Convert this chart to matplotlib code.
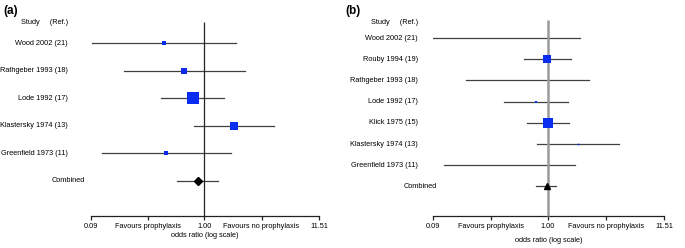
import matplotlib
matplotlib.use("Agg")
import matplotlib.pyplot as plt
import matplotlib.transforms as mtransforms
from matplotlib import font_manager

names = {f.name for f in font_manager.fontManager.ttflist}
narrow = "Liberation Sans Narrow" if "Liberation Sans Narrow" in names else None
plt.rcParams['font.family'] = ['Liberation Sans', 'DejaVu Sans']

# ---------------- data ----------------
studies_a = ["Wood 2002 (21)", "Rathgeber 1993 (18)", "Lode 1992 (17)",
             "Klastersky 1974 (13)", "Greenfield 1973 (11)"]
or_a = [0.425, 0.65, 0.79, 1.89, 0.444]
lo_a = [0.091, 0.18, 0.40, 0.80, 0.114]
hi_a = [1.97, 2.38, 1.52, 4.42, 1.77]
size_a = [3.2, 5.5, 12, 7.5, 4.5]          # marker size (px) ~ study weight
comb_a = (0.88, 0.56, 1.34)

studies_b = ["Wood 2002 (21)", "Rouby 1994 (19)", "Rathgeber 1993 (18)",
             "Lode 1992 (17)", "Klick 1975 (15)", "Klastersky 1974 (13)",
             "Greenfield 1973 (11)"]
or_b = [1.0, 0.99, 1.0, 0.785, 1.0, 1.89, 1.0]
lo_b = [0.09, 0.61, 0.179, 0.40, 0.65, 0.80, 0.113]
hi_b = [1.98, 1.63, 2.39, 1.53, 1.57, 4.44, 1.78]
size_b = [0.0, 7.5, 0.0, 2.6, 9.5, 1.6, 0.0]
comb_b = (0.98, 0.78, 1.18)

tick_vals = [0.09, 0.30, 1.00, 3.39, 11.51]
tick_labels = ["0.09", "Favours prophylaxis", "1.00", "Favours no prophylaxis", "11.51"]
xlim = (0.09, 11.51)

W, H = 685, 248
fig = plt.figure(figsize=(W / 100, H / 100), dpi=100)

BLUE = "#0a2cf0"
CI = "#404040"
if narrow:
    FAM = [narrow, 'Liberation Sans', 'DejaVu Sans']
    FS = 6.2
else:
    FAM = ['Liberation Sans', 'DejaVu Sans']
    FS = 5.3


def make_panel(left_px, right_px, top_px, bottom_px, row0_px, step_px,
               studies, ors, los, his, sizes, comb, comb_marker, comb_ms,
               letter, label_right_px, comb_left_px, vline_color, vline_lw,
               vline_top_px, xlabel_pad):
    ax = fig.add_axes([left_px / W, 1 - bottom_px / H,
                       (right_px - left_px) / W, (bottom_px - top_px) / H])
    ax.set_xscale("log")
    ax.set_xlim(*xlim)
    y_bot = (bottom_px - row0_px) / step_px
    y_top = (top_px - row0_px) / step_px
    ax.set_ylim(y_bot, y_top)
    for s in ["top", "right", "left"]:
        ax.spines[s].set_visible(False)
    ax.spines["bottom"].set_linewidth(0.9)
    ax.spines["bottom"].set_color("#222222")
    ax.set_yticks([])
    ax.set_xticks(tick_vals)
    ax.set_xticklabels(tick_labels, fontsize=FS, family=FAM)
    ax.xaxis.set_minor_locator(matplotlib.ticker.NullLocator())
    ax.tick_params(axis="x", length=3, width=0.9, pad=2.5, color="#222222")
    ax.set_xlabel("odds ratio (log scale)", fontsize=FS, family=FAM,
                  labelpad=xlabel_pad)

    vtop = (vline_top_px - row0_px) / step_px
    ax.plot([1, 1], [vtop, y_bot], color=vline_color, lw=vline_lw, zorder=3,
            solid_capstyle="butt", clip_on=False)

    n = len(studies)
    for i in range(n):
        ax.plot([los[i], his[i]], [i, i], color=CI, lw=0.9, zorder=2)
        if sizes[i] > 0:
            ax.plot(ors[i], i, marker="s", ms=sizes[i] * 0.72, color=BLUE,
                    mec=BLUE, mew=0, zorder=4, linestyle="none")
    ax.plot([comb[1], comb[2]], [n, n], color=CI, lw=0.9, zorder=2)
    ax.plot(comb[0], n, marker=comb_marker, ms=comb_ms, color="black",
            zorder=5, linestyle="none")

    trans = mtransforms.blended_transform_factory(fig.transFigure, ax.transData)
    for i, s in enumerate(studies):
        ax.text(label_right_px / W, i, s, transform=trans, ha="right",
                va="center", fontsize=FS, family=FAM)
    ax.text(comb_left_px / W, n, "Combined", transform=trans, ha="left",
            va="center", fontsize=FS, family=FAM)
    hdr = (22 - row0_px) / step_px
    ax.text(label_right_px / W, hdr, "Study     (Ref.)", transform=trans,
            ha="right", va="center", fontsize=FS, family=FAM)
    fig.text((left_px - 88) / W, 1 - 11 / H, letter, fontsize=8.5,
             fontweight="bold", ha="left", va="center")
    return ax


make_panel(91, 319, 8, 215.7, 43, 27.6, studies_a, or_a, lo_a, hi_a, size_a,
           comb_a, "D", 4.0, "(a)", 68, 52, "#222222", 0.9, 22, 1.5)
make_panel(433.3, 664, 8, 215.7, 38, 21.2, studies_b, or_b, lo_b, hi_b, size_b,
           comb_b, "^", 4.5, "(b)", 418, 404, "#9a9a9a", 1.8, 20, 5)

fig.savefig("out.png", dpi=100)
